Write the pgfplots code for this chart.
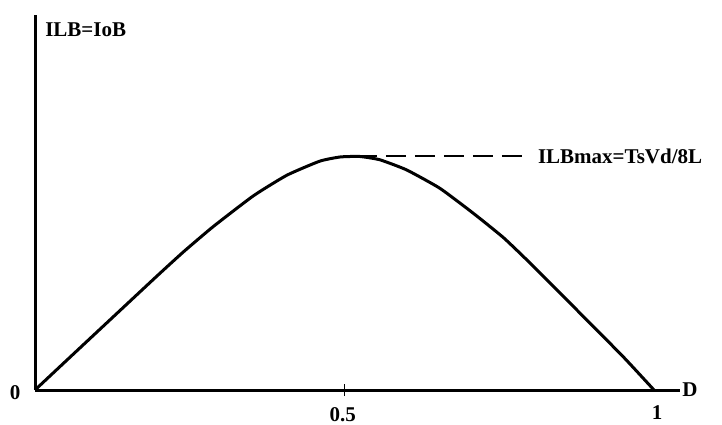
\documentclass[border=0pt]{standalone}
\usepackage{fontspec}
\setmainfont{Liberation Serif}
\usepackage{pgfplots}
\pgfplotsset{compat=1.18}

% Boundary-conduction inductor current I_LB as a function of duty ratio D
\pgfplotstableread{
D     ILB
0.000 0.000
0.060 0.149
0.121 0.300
0.197 0.488
0.240 0.592
0.288 0.700
0.353 0.832
0.407 0.920
0.460 0.980
0.493 0.998
0.525 1.000
0.557 0.986
0.600 0.943
0.654 0.864
0.708 0.757
0.757 0.652
0.800 0.543
0.870 0.357
0.950 0.143
1.000 0.000
}\ilbcurve

\begin{document}
\begin{tikzpicture}[font=\fontsize{10.5pt}{12pt}\selectfont\bfseries]
\useasboundingbox (0,0) rectangle (361pt,212pt);
\begin{axis}[
  at={(17.5pt,17pt)}, anchor=origin,
  scale only axis,
  width=322.5pt, height=187.5pt,
  xmin=0, xmax=1.042, ymin=0, ymax=1.606,
  axis x line=bottom, axis y line=left,
  axis line style={-, line width=1.5pt, black},
  xtick={0.5}, xticklabels={},
  ytick=\empty,
  major tick length=6pt,
  tick align=center,
  x tick style={line width=0.5pt, black},
  clip=false,
]
\addplot[black, line width=1.5pt, smooth, tension=0.3] table[x=D, y=ILB] {\ilbcurve};
\addplot[black, line width=1pt, dash pattern=on 10pt off 4.5pt] coordinates {(0.52,1.0) (0.796,1.0)};

\node[anchor=west, inner sep=0pt] at (axis cs:0.812,1.0) {ILBmax=TsVd/8L};
\node[anchor=west, inner sep=0pt] at (axis cs:0.016,1.542) {ILB=IoB};
\node at (axis cs:-0.032,-0.013) {0};
\node at (axis cs:0.497,-0.107) {0.5};
\node at (axis cs:1.005,-0.098) {1};
\node at (axis cs:1.058,0) {D};
\end{axis}
\end{tikzpicture}
\end{document}
